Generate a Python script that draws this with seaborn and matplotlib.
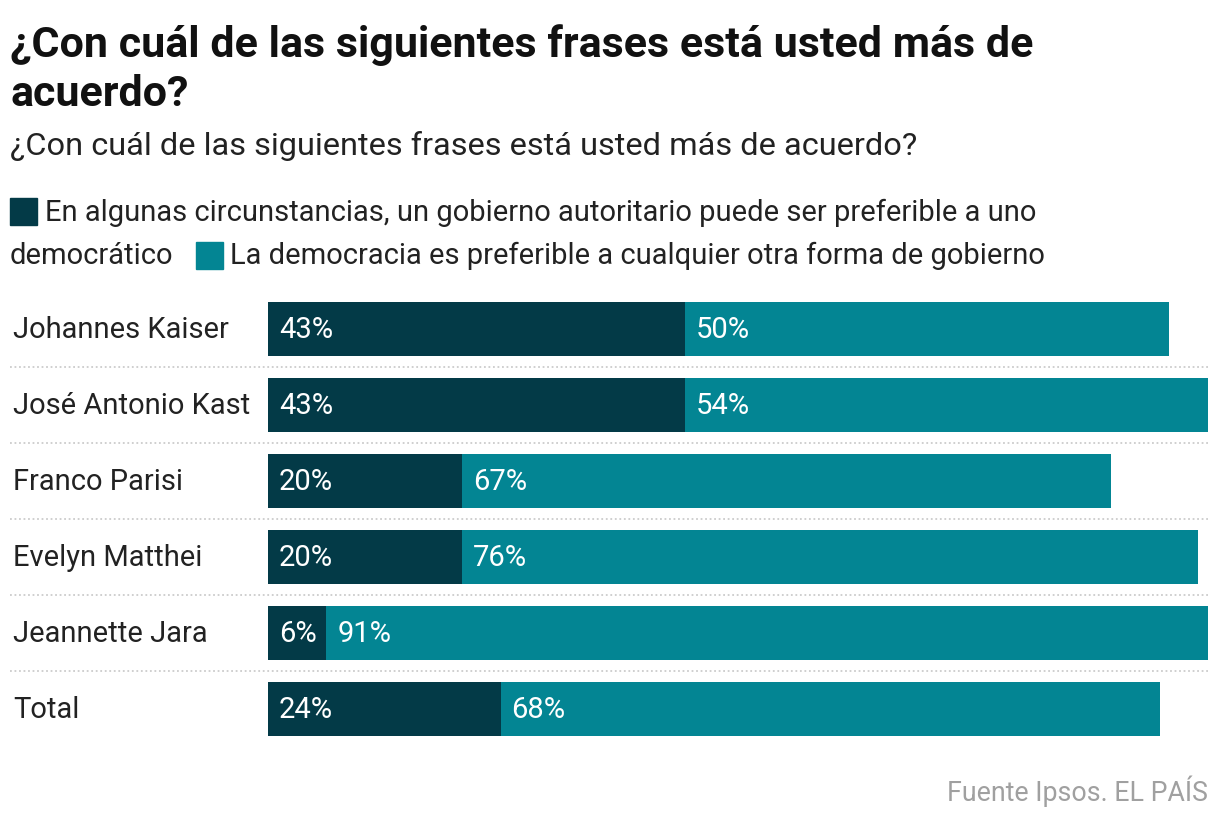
import pandas as pd
import matplotlib.pyplot as plt
import seaborn as sns
from matplotlib.transforms import blended_transform_factory

# data
candidates = ["Johannes Kaiser", "José Antonio Kast", "Franco Parisi",
              "Evelyn Matthei", "Jeannette Jara", "Total"]
autoritario = [43, 43, 20, 20, 6, 24]
democracia = [50, 54, 67, 76, 91, 68]

DARK = "#033a47"
TEAL = "#038593"
FONT = ["Roboto", "DejaVu Sans"]

df = pd.DataFrame({"cand": candidates, "aut": autoritario, "dem": democracia})
df["total"] = df["aut"] + df["dem"]

sns.set_theme(style="white")
plt.rcParams["font.family"] = FONT

W, H = 1220, 820
fig = plt.figure(figsize=(W / 100, H / 100), dpi=100)
left, right = 268 / W, 1208 / W
top, bottom = 1 - 292 / H, 1 - 748 / H
ax = fig.add_axes([left, bottom, right - left, top - bottom])

sns.barplot(data=df, x="total", y="cand", color=TEAL, width=0.71,
            orient="h", ax=ax, saturation=1, linewidth=0)
sns.barplot(data=df, x="aut", y="cand", color=DARK, width=0.71,
            orient="h", ax=ax, saturation=1, linewidth=0)

ax.set_xlim(0, 97)
ax.set_ylim(5.5, -0.5)
ax.set_xlabel("")
ax.set_ylabel("")
ax.set_xticks([])
ax.set_yticks([])
sns.despine(ax=ax, left=True, bottom=True)

# value labels, ~11 px inside each segment
px = 97 / (W * (right - left))
for i, row in df.iterrows():
    ax.text(11 * px, i, f"{row['aut']}%", color="white",
            va="center", ha="left", fontsize=21)
    ax.text(row["aut"] + 11 * px, i, f"{row['dem']}%", color="white",
            va="center", ha="left", fontsize=21)

# category names
for i, name in enumerate(candidates):
    fig.text(13 / W, 1 - (330 + 76 * i) / H, name, fontsize=21,
             va="center", ha="left", color="#222222")

# dotted separators
tr = blended_transform_factory(ax.transAxes, ax.transData)
for y in [0.5, 1.5, 2.5, 3.5, 4.5]:
    ax.plot([(10 - 268) / 940, 1.0], [y, y], transform=tr, clip_on=False,
            color="#cccccc", lw=1.3, ls=(0, (1, 1.5)))

# titles
fig.text(10 / W, 1 - 57 / H, "¿Con cuál de las siguientes frases está usted más de",
         fontsize=31, fontweight="bold", va="baseline", ha="left", color="#111111")
fig.text(10 / W, 1 - 106 / H, "acuerdo?",
         fontsize=31, fontweight="bold", va="baseline", ha="left", color="#111111")
fig.text(10 / W, 1 - 155 / H, "¿Con cuál de las siguientes frases está usted más de acuerdo?",
         fontsize=23.4, va="baseline", ha="left", color="#222222")

# legend (manual, wraps like the reference)
fig.patches.append(plt.Rectangle((10 / W, 1 - 226 / H), 27 / W, 27 / H,
                                 transform=fig.transFigure, color=DARK))
fig.text(45 / W, 1 - 213 / H,
         "En algunas circunstancias, un gobierno autoritario puede ser preferible a uno",
         fontsize=21, va="center", ha="left", color="#222222")
fig.text(10 / W, 1 - 256 / H, "democrático", fontsize=21, va="center",
         ha="left", color="#222222")
fig.patches.append(plt.Rectangle((196 / W, 1 - 270 / H), 27 / W, 27 / H,
                                 transform=fig.transFigure, color=TEAL))
fig.text(230 / W, 1 - 256 / H,
         "La democracia es preferible a cualquier otra forma de gobierno",
         fontsize=21, va="center", ha="left", color="#222222")

# source
fig.text(1208 / W, 1 - 791 / H, "Fuente Ipsos. EL PAÍS", fontsize=19.3,
         va="center", ha="right", color="#a0a0a0")

fig.savefig("out.png", dpi=100)
